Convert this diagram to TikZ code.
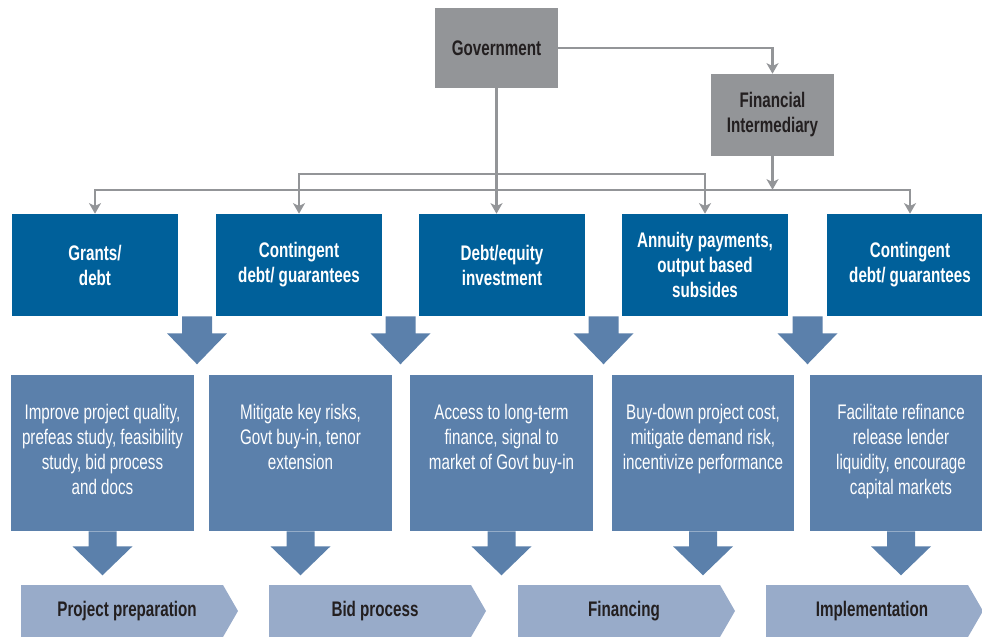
\documentclass[tikz,border=0pt]{standalone}
\usepackage{fontspec}
\setmainfont{Liberation Sans}[FakeStretch=0.72]
\usetikzlibrary{arrows.meta,positioning,calc}
\definecolor{actorgray}{HTML}{939598}
\definecolor{darkblue}{HTML}{00609A}
\definecolor{midblue}{HTML}{5B80AB}
\definecolor{lightblue}{HTML}{98ABC9}
\definecolor{inkdark}{HTML}{231F20}
\tikzset{
  flowtip/.tip={Stealth[length=7.5pt,width=8.5pt,inset=2pt]},
  actor/.style={fill=actorgray, text=inkdark, font=\bfseries\fontsize{15}{17.8}\selectfont,
    align=center, minimum width=3.075cm, inner sep=0pt},
  instrument/.style={fill=darkblue, text=white, font=\bfseries\fontsize{15}{17.8}\selectfont,
    align=center, minimum width=4.15cm, minimum height=2.55cm, inner sep=0pt},
  effect/.style={fill=midblue, minimum width=4.55cm, minimum height=3.9cm, inner sep=0pt},
  effecttext/.style={text=white, font=\fontsize{15}{17.8}\selectfont, align=center,
    anchor=north, inner sep=0pt},
  stagetext/.style={text=inkdark, font=\bfseries\fontsize{15}{17.8}\selectfont, inner sep=0pt},
  link/.style={draw=actorgray, line width=1.6pt, -flowtip},
}
\begin{document}
\begin{tikzpicture}[x=0.025cm, y=-0.025cm]
\useasboundingbox (0,0) rectangle (982,637);
% actors
\node[actor, minimum height=2cm] (gov) at (496.5,48) {Government};
\node[actor, minimum height=2.05cm] (fi) at (772.5,115) {Financial\\Intermediary};
% instruments
\node[instrument] (b1) at (95,265) {Grants/\\debt};
\node[instrument] (b2) at (299,265) {Contingent\\debt/ guarantees};
\node[instrument] (b3) at (502,265) {Debt/equity\\investment};
\node[instrument] (b4) at (705,265) {Annuity payments,\\output based\\subsides};
\node[instrument] (b5) at (910,265) {Contingent\\debt/ guarantees};
% effects
\node[effect] (l1) at (102.5,453) {};
\node[effect] (l2) at (300.5,453) {};
\node[effect] (l3) at (501.5,453) {};
\node[effect] (l4) at (703,453) {};
\node[effect] (l5) at (901,453) {};
\node[effecttext] (t1) at ($(l1.north)+(0,29)$) {Improve project quality,\\prefeas study, feasibility\\study, bid process\\and docs};
\node[effecttext] (t2) at ($(l2.north)+(0,29)$) {Mitigate key risks,\\Govt buy-in, tenor\\extension};
\node[effecttext] (t3) at ($(l3.north)+(0,29)$) {Access to long-term\\finance, signal to\\market of Govt buy-in};
\node[effecttext] (t4) at ($(l4.north)+(0,29)$) {Buy-down project cost,\\mitigate demand risk,\\incentivize performance};
\node[effecttext] (t5) at ($(l5.north)+(0,29)$) {Facilitate refinance\\release lender\\liquidity, encourage\\capital markets};
% connectors
\coordinate (bus) at ($(b1.north)+(0,-24)$);
\draw[link] (gov.east) -| (fi.north);
\draw[link] (gov.south) -- (gov.south |- b3.north);
\draw[link, flowtip-flowtip] (b2.north) -- ++(0,-40) -| (b4.north);
\draw[link, flowtip-flowtip] (b1.north) -- (bus) -| (b5.north);
\draw[link] (fi.south) -- (fi.south |- bus);
% block arrows between rows
\foreach \a/\b in {1/2,2/3,3/4,4/5}
  \fill[midblue] ($(b\a.south east)!0.5!(b\b.south west)+(-15,0)$) -- ++(30,0) -- ++(0,17)
    -- ++(15,0) -- ++(-30,31) -- ++(-30,-31) -- ++(15,0) -- cycle;
\foreach \n in {1,...,5}
  \fill[midblue] ($(l\n.south)+(-14,0)$) -- ++(28,0) -- ++(0,15)
    -- ++(16,0) -- ++(-30,29) -- ++(-30,-29) -- ++(16,0) -- cycle;
% stages
\foreach \x/\name/\txt in {21/s1/Project preparation,269/s2/Bid process,518/s3/Financing,766/s4/Implementation} {
  \fill[lightblue] (\x,585) -- ++(202,0) -- ++(15,26) -- ++(-15,26) -- ++(-202,0) -- cycle;
  \node[stagetext] (\name) at ({\x+106},611) {\txt};
}
\end{tikzpicture}
\end{document}
